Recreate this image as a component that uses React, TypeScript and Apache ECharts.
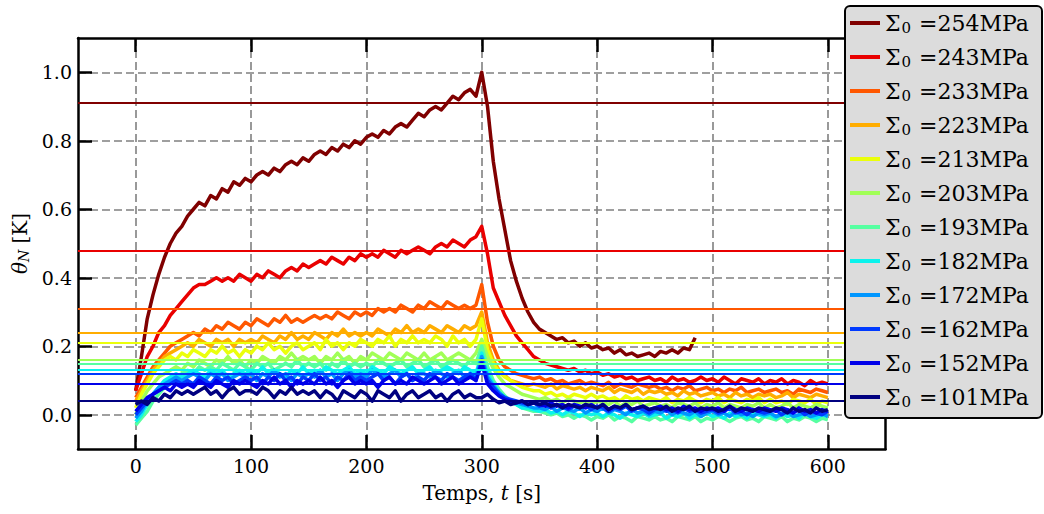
import React, { useEffect, useRef } from "react";
import * as echarts from "echarts";

// stress levels (legend labels), in plotting order
const stresses = [254, 243, 233, 223, 213, 203, 193, 182, 172, 162, 152, 101];
const colors = [
  "#800000", "#e90000", "#ff5700", "#ffad00", "#ebff0b", "#a1ff56",
  "#56ffa1", "#0bf3ec", "#0097ff", "#003aff", "#0000e9", "#000080",
];
// horizontal reference levels (one per series)
const levels = [0.911, 0.48, 0.307, 0.242, 0.208, 0.161, 0.148, 0.125, 0.121, 0.119, 0.086, 0.042];

const xTicks = [0, 100, 200, 300, 400, 500, 600];
const yTicks = [0, 0.2, 0.4, 0.6, 0.8, 1.0];

// sampling times: every 5 s
const times = Array.from({ length: 121 }, (_, i) => i * 5);

const s254 = [
  0.07, 0.17, 0.28, 0.35, 0.41, 0.46, 0.5, 0.53, 0.55, 0.58,
  0.6, 0.62, 0.61, 0.64, 0.63, 0.66, 0.65, 0.68, 0.67, 0.69,
  0.68, 0.7, 0.71, 0.7, 0.72, 0.71, 0.73, 0.74, 0.73, 0.75,
  0.74, 0.76, 0.77, 0.76, 0.78, 0.77, 0.79, 0.78, 0.8, 0.79,
  0.81, 0.82, 0.81, 0.83, 0.82, 0.84, 0.85, 0.84, 0.86, 0.88,
  0.87, 0.89, 0.9, 0.89, 0.91, 0.93, 0.92, 0.94, 0.95, 0.93,
  1.0, 0.9, 0.74, 0.63, 0.54, 0.45, 0.39, 0.34, 0.3, 0.27,
  0.25, 0.24, 0.23, 0.22, 0.225, 0.21, 0.215, 0.2, 0.21, 0.195,
  0.2, 0.19, 0.195, 0.18, 0.19, 0.175, 0.18, 0.17, 0.175, 0.18,
  0.17, 0.185, 0.18, 0.19, 0.18, 0.195, 0.19, 0.225,
];
const s243 = [
  0.07, 0.12, 0.17, 0.2, 0.24, 0.26, 0.29, 0.31, 0.33, 0.35,
  0.37, 0.38, 0.38, 0.39, 0.4, 0.39, 0.4, 0.39, 0.41, 0.4,
  0.39, 0.41, 0.4, 0.42, 0.41, 0.4, 0.42, 0.43, 0.42, 0.44,
  0.43, 0.44, 0.45, 0.44, 0.46, 0.45, 0.44, 0.46, 0.45, 0.47,
  0.46, 0.47, 0.46, 0.48, 0.47, 0.46, 0.48, 0.47, 0.48, 0.49,
  0.48, 0.47, 0.49, 0.5, 0.49, 0.51, 0.5, 0.49, 0.51, 0.52,
  0.55, 0.47, 0.37, 0.33, 0.29, 0.26, 0.23, 0.21, 0.19, 0.17,
  0.16, 0.15, 0.145, 0.14, 0.135, 0.13, 0.135, 0.125, 0.13, 0.12,
  0.125, 0.115, 0.12, 0.11, 0.115, 0.105, 0.11, 0.1, 0.105, 0.11,
  0.1, 0.105, 0.095, 0.11, 0.1, 0.105, 0.095, 0.1, 0.11, 0.1,
  0.105, 0.095, 0.11, 0.1, 0.09, 0.105, 0.1, 0.095, 0.105, 0.09,
  0.1, 0.095, 0.105, 0.09, 0.1, 0.095, 0.085, 0.1, 0.09, 0.095,
  0.09,
];
const s233 = [
  0.05, 0.08, 0.11, 0.14, 0.16, 0.18, 0.2, 0.21, 0.22, 0.23,
  0.24, 0.23, 0.25, 0.24, 0.26, 0.25, 0.27, 0.26, 0.25, 0.27,
  0.26, 0.28, 0.27, 0.26, 0.28, 0.27, 0.29, 0.27, 0.28, 0.27,
  0.28, 0.29, 0.28, 0.29, 0.28, 0.3, 0.29, 0.28, 0.3, 0.29,
  0.3, 0.29, 0.31, 0.3, 0.31, 0.3, 0.32, 0.31, 0.3, 0.32,
  0.31, 0.33, 0.32, 0.31, 0.33, 0.32, 0.31, 0.32, 0.31, 0.32,
  0.38, 0.27, 0.2, 0.16, 0.14, 0.13, 0.12, 0.115, 0.11, 0.105,
  0.11, 0.1, 0.105, 0.095, 0.1, 0.09, 0.095, 0.1, 0.09, 0.095,
  0.09, 0.085, 0.095, 0.08, 0.09, 0.085, 0.08, 0.09, 0.085, 0.08,
  0.085, 0.075, 0.08, 0.07, 0.08, 0.075, 0.085, 0.07, 0.075, 0.08,
  0.07, 0.075, 0.065, 0.075, 0.07, 0.08, 0.065, 0.07, 0.075, 0.065,
  0.07, 0.075, 0.065, 0.07, 0.06, 0.075, 0.07, 0.065, 0.075, 0.07,
  0.065,
];
const s223 = [
  0.04, 0.07, 0.1, 0.13, 0.15, 0.17, 0.18, 0.19, 0.2, 0.21,
  0.2, 0.22, 0.21, 0.2, 0.22, 0.21, 0.22, 0.2, 0.22, 0.21,
  0.22, 0.21, 0.23, 0.22, 0.21, 0.23, 0.22, 0.24, 0.22, 0.23,
  0.22, 0.24, 0.23, 0.22, 0.24, 0.23, 0.25, 0.23, 0.24, 0.23,
  0.24, 0.23, 0.25, 0.24, 0.23, 0.25, 0.24, 0.26, 0.24, 0.25,
  0.24, 0.26, 0.25, 0.24, 0.26, 0.25, 0.24, 0.26, 0.25, 0.26,
  0.3, 0.21, 0.16, 0.13, 0.115, 0.1, 0.095, 0.09, 0.085, 0.09,
  0.085, 0.08, 0.09, 0.075, 0.085, 0.08, 0.075, 0.08, 0.07, 0.08,
  0.075, 0.07, 0.08, 0.065, 0.075, 0.07, 0.065, 0.075, 0.06, 0.07,
  0.065, 0.07, 0.06, 0.065, 0.055, 0.07, 0.06, 0.065, 0.055, 0.06,
  0.065, 0.055, 0.06, 0.05, 0.065, 0.055, 0.06, 0.05, 0.06, 0.055,
  0.06, 0.05, 0.055, 0.065, 0.05, 0.06, 0.055, 0.05, 0.06, 0.055,
  0.05,
];
const s213 = [
  0.02, 0.06, 0.09, 0.12, 0.14, 0.16, 0.17, 0.16, 0.18, 0.17,
  0.19, 0.18, 0.17, 0.19, 0.18, 0.2, 0.18, 0.19, 0.17, 0.19,
  0.18, 0.2, 0.19, 0.21, 0.19, 0.2, 0.18, 0.2, 0.21, 0.19,
  0.2, 0.21, 0.19, 0.22, 0.2, 0.21, 0.19, 0.21, 0.2, 0.22,
  0.21, 0.2, 0.22, 0.21, 0.23, 0.2, 0.22, 0.21, 0.23, 0.21,
  0.22, 0.21, 0.23, 0.22, 0.2, 0.23, 0.21, 0.22, 0.2, 0.22,
  0.28, 0.19, 0.15, 0.125, 0.11, 0.1, 0.09, 0.08, 0.075, 0.07,
  0.07, 0.06, 0.065, 0.055, 0.06, 0.05, 0.06, 0.055, 0.05, 0.06,
  0.05, 0.055, 0.045, 0.05, 0.04, 0.055, 0.045, 0.05, 0.04, 0.05,
  0.045, 0.04, 0.05, 0.035, 0.045, 0.04, 0.05, 0.04, 0.035, 0.045,
  0.04, 0.05, 0.035, 0.045, 0.04, 0.035, 0.045, 0.04, 0.05, 0.035,
  0.045, 0.035, 0.04, 0.03, 0.045, 0.04, 0.035, 0.045, 0.03, 0.04,
  0.035,
];
const s203 = [
  0.0, 0.04, 0.07, 0.09, 0.11, 0.12, 0.13, 0.14, 0.13, 0.15,
  0.14, 0.16, 0.15, 0.14, 0.16, 0.15, 0.17, 0.15, 0.16, 0.14,
  0.16, 0.15, 0.17, 0.16, 0.15, 0.17, 0.16, 0.18, 0.16, 0.17,
  0.16, 0.17, 0.15, 0.17, 0.16, 0.18, 0.16, 0.17, 0.15, 0.17,
  0.16, 0.18, 0.17, 0.16, 0.18, 0.17, 0.16, 0.18, 0.17, 0.16,
  0.18, 0.16, 0.17, 0.18, 0.16, 0.17, 0.18, 0.17, 0.16, 0.18,
  0.22, 0.17, 0.135, 0.11, 0.09, 0.08, 0.07, 0.06, 0.055, 0.05,
  0.045, 0.05, 0.04, 0.045, 0.035, 0.045, 0.04, 0.035, 0.04, 0.03,
  0.04, 0.035, 0.03, 0.04, 0.025, 0.035, 0.03, 0.04, 0.025, 0.03,
  0.035, 0.025, 0.03, 0.02, 0.035, 0.03, 0.025, 0.035, 0.02, 0.03,
  0.025, 0.035, 0.02, 0.03, 0.025, 0.02, 0.03, 0.025, 0.035, 0.02,
  0.03, 0.02, 0.025, 0.035, 0.02, 0.03, 0.025, 0.02, 0.03, 0.025,
  0.02,
];
const s193 = [
  -0.03, -0.01, 0.01, 0.04, 0.06, 0.08, 0.1, 0.11, 0.12, 0.13,
  0.12, 0.14, 0.13, 0.14, 0.13, 0.15, 0.14, 0.13, 0.15, 0.14,
  0.13, 0.15, 0.14, 0.15, 0.13, 0.14, 0.15, 0.14, 0.16, 0.14,
  0.15, 0.14, 0.15, 0.13, 0.15, 0.14, 0.16, 0.14, 0.15, 0.14,
  0.15, 0.14, 0.16, 0.15, 0.14, 0.15, 0.16, 0.14, 0.15, 0.16,
  0.14, 0.15, 0.16, 0.14, 0.15, 0.16, 0.15, 0.14, 0.16, 0.15,
  0.2, 0.14, 0.1, 0.075, 0.055, 0.04, 0.03, 0.02, 0.015, 0.01,
  0.01, 0.005, 0.0, 0.005, -0.005, 0.0, -0.01, 0.0, -0.005, -0.015,
  -0.005, -0.01, 0.0, -0.015, -0.005, -0.01, -0.02, -0.005, -0.01, -0.015,
  -0.005, -0.015, -0.01, -0.02, -0.005, -0.01, -0.015, -0.005, -0.02, -0.01,
  -0.015, -0.005, -0.01, -0.02, -0.01, -0.005, -0.015, -0.01, -0.02, -0.005,
  -0.01, -0.015, -0.005, -0.02, -0.01, -0.015, -0.005, -0.01, -0.02, -0.01,
  -0.015,
];
const s182 = [
  -0.02, 0.0, 0.03, 0.06, 0.08, 0.1, 0.11, 0.12, 0.11, 0.12,
  0.13, 0.12, 0.11, 0.13, 0.12, 0.13, 0.11, 0.12, 0.13, 0.12,
  0.13, 0.12, 0.14, 0.12, 0.13, 0.12, 0.11, 0.13, 0.12, 0.14,
  0.12, 0.13, 0.12, 0.14, 0.13, 0.12, 0.13, 0.14, 0.12, 0.13,
  0.12, 0.14, 0.13, 0.12, 0.14, 0.13, 0.12, 0.13, 0.14, 0.12,
  0.13, 0.14, 0.12, 0.13, 0.14, 0.13, 0.12, 0.14, 0.13, 0.12,
  0.18, 0.12, 0.09, 0.065, 0.05, 0.04, 0.03, 0.02, 0.02, 0.015,
  0.01, 0.015, 0.005, 0.01, 0.0, 0.01, 0.005, -0.005, 0.005, 0.0,
  0.005, -0.005, 0.005, 0.0, -0.01, 0.005, 0.0, -0.005, 0.005, -0.005,
  0.0, 0.005, -0.01, 0.0, -0.005, 0.005, -0.01, 0.0, -0.005, 0.005,
  -0.005, 0.0, -0.01, 0.005, -0.005, 0.0, -0.01, 0.005, 0.0, -0.005,
  0.0, -0.01, 0.005, -0.005, 0.0, -0.01, 0.005, -0.005, -0.01, 0.0,
  -0.005,
];
const s172 = [
  -0.01, 0.01, 0.04, 0.06, 0.08, 0.09, 0.1, 0.11, 0.1, 0.11,
  0.12, 0.11, 0.1, 0.12, 0.11, 0.12, 0.1, 0.11, 0.12, 0.11,
  0.12, 0.1, 0.12, 0.11, 0.13, 0.11, 0.12, 0.1, 0.12, 0.11,
  0.12, 0.11, 0.13, 0.11, 0.12, 0.1, 0.12, 0.13, 0.11, 0.12,
  0.11, 0.13, 0.12, 0.11, 0.12, 0.13, 0.11, 0.12, 0.1, 0.12,
  0.12, 0.11, 0.13, 0.12, 0.11, 0.12, 0.13, 0.11, 0.12, 0.11,
  0.17, 0.11, 0.085, 0.065, 0.05, 0.04, 0.035, 0.03, 0.025, 0.02,
  0.02, 0.015, 0.025, 0.01, 0.02, 0.015, 0.01, 0.02, 0.005, 0.015,
  0.01, 0.02, 0.005, 0.015, 0.01, 0.0, 0.015, 0.005, 0.01, 0.0,
  0.01, 0.005, 0.015, 0.0, 0.01, 0.005, 0.0, 0.01, -0.005, 0.005,
  0.01, 0.0, 0.005, -0.005, 0.01, 0.0, 0.005, -0.005, 0.005, 0.0,
  0.005, -0.005, 0.0, 0.01, -0.005, 0.0, 0.005, -0.005, 0.0, 0.005,
  -0.005,
];
const s162 = [
  0.0, 0.02, 0.04, 0.06, 0.07, 0.08, 0.09, 0.1, 0.09, 0.1,
  0.09, 0.11, 0.1, 0.09, 0.11, 0.1, 0.11, 0.09, 0.1, 0.11,
  0.1, 0.11, 0.09, 0.11, 0.1, 0.12, 0.1, 0.11, 0.09, 0.11,
  0.1, 0.12, 0.1, 0.11, 0.09, 0.11, 0.1, 0.12, 0.1, 0.11,
  0.1, 0.11, 0.12, 0.1, 0.11, 0.09, 0.11, 0.12, 0.1, 0.11,
  0.1, 0.12, 0.11, 0.1, 0.12, 0.11, 0.1, 0.11, 0.12, 0.1,
  0.16, 0.1, 0.08, 0.06, 0.05, 0.045, 0.04, 0.035, 0.03, 0.035,
  0.025, 0.03, 0.02, 0.03, 0.025, 0.015, 0.025, 0.02, 0.03, 0.015,
  0.025, 0.02, 0.01, 0.02, 0.015, 0.025, 0.01, 0.02, 0.015, 0.005,
  0.015, 0.02, 0.01, 0.015, 0.005, 0.02, 0.01, 0.015, 0.005, 0.01,
  0.015, 0.005, 0.01, 0.02, 0.005, 0.01, 0.0, 0.015, 0.01, 0.005,
  0.01, 0.015, 0.0, 0.01, 0.005, 0.015, 0.0, 0.01, 0.005, 0.0,
  0.01,
];
const s152 = [
  0.01, 0.03, 0.05, 0.06, 0.07, 0.08, 0.07, 0.09, 0.08, 0.09,
  0.08, 0.1, 0.09, 0.08, 0.1, 0.09, 0.08, 0.1, 0.09, 0.1,
  0.09, 0.08, 0.1, 0.09, 0.11, 0.09, 0.1, 0.08, 0.1, 0.09,
  0.1, 0.09, 0.11, 0.09, 0.1, 0.08, 0.1, 0.11, 0.09, 0.1,
  0.09, 0.1, 0.08, 0.1, 0.11, 0.09, 0.1, 0.09, 0.11, 0.1,
  0.09, 0.1, 0.11, 0.09, 0.1, 0.11, 0.09, 0.1, 0.11, 0.1,
  0.15, 0.09, 0.07, 0.055, 0.045, 0.04, 0.035, 0.04, 0.03, 0.035,
  0.03, 0.025, 0.035, 0.025, 0.03, 0.02, 0.03, 0.025, 0.02, 0.03,
  0.02, 0.03, 0.015, 0.025, 0.02, 0.03, 0.015, 0.02, 0.025, 0.015,
  0.02, 0.025, 0.015, 0.02, 0.01, 0.025, 0.015, 0.02, 0.01, 0.02,
  0.015, 0.02, 0.01, 0.025, 0.015, 0.01, 0.02, 0.015, 0.01, 0.02,
  0.015, 0.01, 0.02, 0.015, 0.005, 0.02, 0.01, 0.015, 0.005, 0.015,
  0.01,
];
const s101 = [
  0.03, 0.04, 0.03, 0.05, 0.04, 0.06, 0.05, 0.07, 0.06, 0.07,
  0.06, 0.07, 0.08, 0.06, 0.07, 0.05, 0.07, 0.08, 0.06, 0.07,
  0.07, 0.06, 0.08, 0.07, 0.05, 0.07, 0.06, 0.08, 0.06, 0.07,
  0.06, 0.07, 0.05, 0.07, 0.06, 0.04, 0.07, 0.06, 0.05, 0.07,
  0.06, 0.04, 0.07, 0.06, 0.05, 0.07, 0.04, 0.06, 0.07, 0.05,
  0.06, 0.07, 0.05, 0.06, 0.04, 0.06, 0.07, 0.05, 0.06, 0.05,
  0.05, 0.06, 0.045, 0.035, 0.04, 0.03, 0.035, 0.04, 0.03, 0.035,
  0.03, 0.035, 0.025, 0.03, 0.02, 0.03, 0.025, 0.02, 0.03, 0.025,
  0.02, 0.03, 0.015, 0.025, 0.02, 0.03, 0.015, 0.02, 0.025, 0.015,
  0.02, 0.015, 0.025, 0.01, 0.02, 0.015, 0.025, 0.01, 0.02, 0.015,
  0.02, 0.01, 0.015, 0.025, 0.01, 0.02, 0.015, 0.01, 0.02, 0.015,
  0.01, 0.02, 0.015, 0.005, 0.02, 0.01, 0.015, 0.005, 0.02, 0.01,
  0.015,
];

const seriesValues = [s254, s243, s233, s223, s213, s203, s193, s182, s172, s162, s152, s101];

const FONT = "'DejaVu Serif', serif";

export default function App() {
  const ref = useRef<HTMLDivElement>(null);
  useEffect(() => {
    if (!ref.current) return;
    const chart = echarts.init(ref.current, null, { renderer: "svg" });
    const names = stresses.map((s) => `\u03A3_0 =${s}MPa`);
    const series = seriesValues.map((vals, k) => ({
      type: "line",
      name: names[k],
      xAxisIndex: 0,
      yAxisIndex: 0,
      data: vals.map((v, i) => [times[i], v]),
      showSymbol: false,
      symbol: "none",
      color: colors[k],
      lineStyle: { width: 3.5, color: colors[k], join: "round" },
      z: 2,
      markLine: {
        silent: true,
        symbol: ["none", "none"],
        label: { show: false },
        z: 5,
        lineStyle: { color: colors[k], width: 2, type: "solid" },
        data: [{ yAxis: levels[k] }],
      },
    }));
    const axisLineStyle = { color: "#000", width: 2.5 };
    chart.setOption({
      animation: false,
      backgroundColor: "#fff",
      grid: { left: 78, top: 38, right: 158.5, bottom: 65, containLabel: false },
      xAxis: [
        {
          type: "value",
          min: -50,
          max: 650,
          position: "bottom",
          axisLine: { show: true, lineStyle: axisLineStyle, onZero: false },
          axisTick: { show: true, inside: true, length: 14, lineStyle: { color: "#000", width: 2.5 }, customValues: xTicks },
          axisLabel: { show: true, customValues: xTicks, margin: 7, color: "#000", fontFamily: FONT, fontSize: 19 },
          splitLine: { show: true, lineStyle: { color: "#808080", width: 1.6, type: [8, 4] } },
          name: "Temps, {i|t} [s]",
          nameLocation: "middle",
          nameGap: 34,
          nameTextStyle: {
            color: "#000",
            fontFamily: FONT,
            fontSize: 20,
            rich: { i: { fontFamily: FONT, fontSize: 20, fontStyle: "italic", color: "#000" } },
          },
        },
        {
          type: "value",
          min: -50,
          max: 650,
          position: "top",
          axisLine: { show: true, lineStyle: axisLineStyle, onZero: false },
          axisTick: { show: true, inside: true, length: 14, lineStyle: { color: "#000", width: 2.5 }, customValues: xTicks },
          axisLabel: { show: false },
          splitLine: { show: false },
        },
      ],
      yAxis: [
        {
          type: "value",
          min: -0.1,
          max: 1.1,
          position: "left",
          axisLine: { show: true, lineStyle: axisLineStyle, onZero: false },
          axisTick: { show: true, inside: true, length: 14, lineStyle: { color: "#000", width: 2.5 }, customValues: yTicks },
          axisLabel: {
            show: true,
            customValues: yTicks,
            margin: 6,
            color: "#000",
            fontFamily: FONT,
            fontSize: 19,
            formatter: (v: number) => v.toFixed(1),
          },
          splitLine: { show: true, lineStyle: { color: "#808080", width: 1.6, type: [8, 4] } },
          name: "{i|\u03B8}{s|N} [K]",
          nameLocation: "middle",
          nameRotate: 90,
          nameGap: 46,
          nameTextStyle: {
            color: "#000",
            fontFamily: FONT,
            fontSize: 20,
            rich: {
              i: { fontFamily: FONT, fontSize: 20, fontStyle: "italic", color: "#000" },
              s: { fontFamily: FONT, fontSize: 14, fontStyle: "italic", color: "#000", padding: [8, 0, 0, 0] },
            },
          },
        },
        {
          type: "value",
          min: -0.1,
          max: 1.1,
          position: "right",
          axisLine: { show: true, lineStyle: axisLineStyle, onZero: false },
          axisTick: { show: true, inside: true, length: 14, lineStyle: { color: "#000", width: 2.5 }, customValues: yTicks },
          axisLabel: { show: false },
          splitLine: { show: false },
        },
      ],
      graphic: [
        {
          type: "rect",
          z: 90,
          shape: { x: 845, y: 6, width: 197, height: 412, r: 5 },
          style: { fill: "#dcdcdc", stroke: "#000", lineWidth: 2 },
        },
      ],
      legend: {
        show: true,
        orient: "vertical",
        left: 845,
        top: 6,
        z: 100,
        padding: [5, 6, 9, 5],
        itemGap: 10,
        itemWidth: 30,
        itemHeight: 4,
        icon: "rect",
        backgroundColor: "transparent",
        borderWidth: 0,
        data: names,
        formatter: (name: string) => {
          const idx = names.indexOf(name);
          return `{a|\u03A3}{s|0}{a| =${stresses[idx]}MPa}`;
        },
        textStyle: {
          color: "#000",
          fontFamily: FONT,
          fontSize: 22,
          lineHeight: 24,
          rich: {
            a: { fontFamily: FONT, fontSize: 22, color: "#000", lineHeight: 24 },
            s: { fontFamily: FONT, fontSize: 15, color: "#000", padding: [9, 1, 0, 1], lineHeight: 24 },
          },
        },
      },
      series,
    });
    return () => chart.dispose();
  }, []);
  return (
    <div
      ref={ref}
      style={{ position: "fixed", left: 0, top: 0, width: 1044, height: 514, background: "#fff" }}
    />
  );
}
